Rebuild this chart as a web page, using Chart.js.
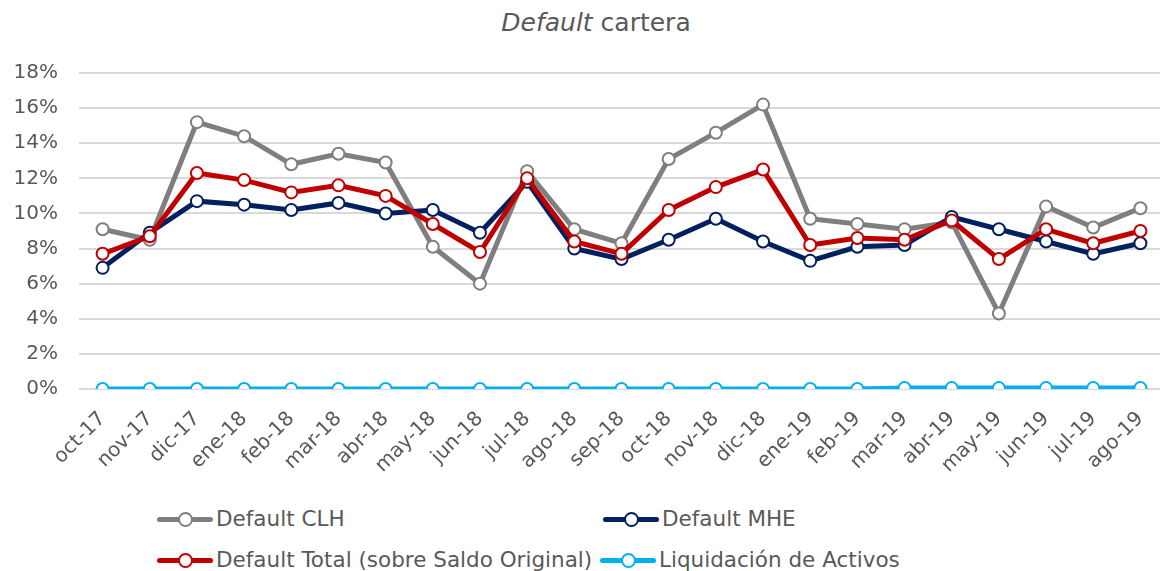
<!DOCTYPE html>
<html>
<head>
<meta charset="utf-8">
<script src="https://cdn.jsdelivr.net/npm/chart.js@4/dist/chart.umd.min.js"></script>
<style>
  html, body { margin: 0; padding: 0; background: #fff; }
  #wrap { position: relative; width: 1160px; height: 571px; overflow: hidden; font-family: "DejaVu Sans", Verdana, sans-serif; color: #595959; }
  #title { position: absolute; left: 0; top: 8px; width: 1192px; text-align: center; font-size: 25px; }
  #box { position: absolute; left: 0; top: 0; width: 1172px; height: 480px; }
  #legend { position: absolute; left: 0; top: 0; }
  .item { position: absolute; display: flex; align-items: center; font-size: 21.5px; white-space: nowrap; }
  .mark { position: relative; width: 56px; height: 20px; margin-right: 3px; }
  .mark .ln { position: absolute; left: 0; right: 0; top: 8px; height: 5px; border-radius: 3px; }
  .mark .pt { position: absolute; left: 21px; top: 3px; width: 11px; height: 11px; border-radius: 50%; background: #fff; border: 2px solid; }
</style>
</head>
<body>
<div id="wrap">
  <div id="title"><i>Default</i> cartera</div>
  <div id="box"><canvas id="myChart"></canvas></div>
  <div id="legend"></div>
</div>
<script>
// Data
const months = ['oct-17', 'nov-17', 'dic-17', 'ene-18', 'feb-18', 'mar-18', 'abr-18', 'may-18',
    'jun-18', 'jul-18', 'ago-18', 'sep-18', 'oct-18', 'nov-18', 'dic-18', 'ene-19',
    'feb-19', 'mar-19', 'abr-19', 'may-19', 'jun-19', 'jul-19', 'ago-19'];

const defaultCLH = [9.1, 8.5, 15.2, 14.4, 12.8, 13.4, 12.9, 8.1, 6.0, 12.4, 9.1, 8.3,
    13.1, 14.6, 16.2, 9.7, 9.4, 9.1, 9.5, 4.3, 10.4, 9.2, 10.3];
const defaultMHE = [6.9, 8.9, 10.7, 10.5, 10.2, 10.6, 10.0, 10.2, 8.9, 11.8, 8.0, 7.4,
    8.5, 9.7, 8.4, 7.3, 8.1, 8.2, 9.8, 9.1, 8.4, 7.7, 8.3];
const defaultTotal = [7.7, 8.7, 12.3, 11.9, 11.2, 11.6, 11.0, 9.4, 7.8, 12.0, 8.4, 7.7,
    10.2, 11.5, 12.5, 8.2, 8.6, 8.5, 9.6, 7.4, 9.1, 8.3, 9.0];
const liquidacion = [0, 0, 0, 0, 0, 0, 0, 0, 0, 0, 0, 0,
    0, 0, 0, 0, 0, 0.05, 0.05, 0.05, 0.05, 0.05, 0.05];

const yTicks = [0, 2, 4, 6, 8, 10, 12, 14, 16, 18];

const FONT = '"DejaVu Sans", Verdana, sans-serif';
const TXT = '#595959';

function series(label, data, color, order) {
    return {
        label: label,
        data: data,
        borderColor: color,
        backgroundColor: color,
        borderWidth: 5,
        pointRadius: 6,
        pointBorderWidth: 2,
        pointBackgroundColor: '#ffffff',
        pointBorderColor: color,
        tension: 0,
        order: order
    };
}

const config = {
    type: 'line',
    data: {
        labels: months,
        datasets: [
            series('Default CLH', defaultCLH, '#7f7f7f', 3),
            series('Default MHE', defaultMHE, '#002060', 2),
            series('Default Total (sobre Saldo Original)', defaultTotal, '#c00000', 1),
            series('Liquidación de Activos', liquidacion, '#00b0f0', 0)
        ]
    },
    options: {
        responsive: true,
        maintainAspectRatio: false,
        animation: false,
        layout: { padding: { top: 73, right: 0, left: 0, bottom: 0 } },
        plugins: {
            legend: { display: false },
            title: { display: false },
            tooltip: { enabled: false }
        },
        scales: {
            x: {
                offset: true,
                grid: { display: false },
                border: { display: false },
                ticks: {
                    color: TXT,
                    font: { family: FONT, size: 20 },
                    minRotation: 45,
                    maxRotation: 45,
                    padding: 10,
                    autoSkip: false
                },
                afterFit: s => { s.height = 91; }
            },
            y: {
                min: 0,
                max: 18,
                afterBuildTicks: s => { s.ticks = yTicks.map(v => ({ value: v })); },
                grid: { color: '#d9d9d9', lineWidth: 2, drawTicks: false },
                border: { display: false },
                ticks: {
                    color: TXT,
                    font: { family: FONT, size: 20 },
                    padding: 21,
                    callback: v => v + '%'
                },
                afterFit: s => { s.width = 79; }
            }
        }
    }
};

// Create chart
const chart = new Chart(document.getElementById('myChart'), config);

// Legend (two columns, like the original)
const legendPos = [[157, 519], [603, 519], [157, 560], [600, 560]];
const legendEl = document.getElementById('legend');
config.data.datasets.forEach((ds, i) => {
    const item = document.createElement('div');
    item.className = 'item';
    item.style.left = legendPos[i][0] + 'px';
    item.style.top = (legendPos[i][1] - 13) + 'px';
    item.innerHTML = '<div class="mark"><div class="ln" style="background:' + ds.borderColor + '"></div>' +
        '<div class="pt" style="border-color:' + ds.borderColor + '"></div></div><span></span>';
    item.querySelector('span').textContent = ds.label;
    legendEl.appendChild(item);
});
</script>
</body>
</html>
